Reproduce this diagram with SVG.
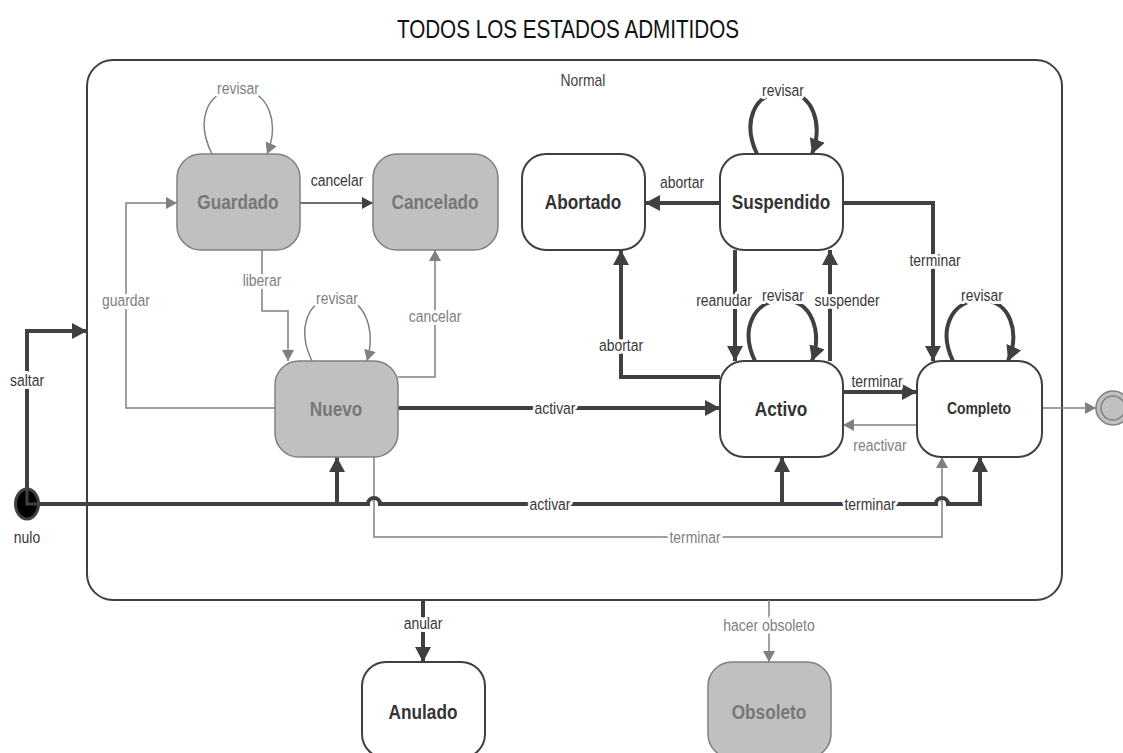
<svg xmlns="http://www.w3.org/2000/svg" width="1123" height="753" viewBox="0 0 1123 753">
<style>
text{font-family:"Liberation Sans",Arial,sans-serif;text-anchor:middle;dominant-baseline:central}
.title{font-size:25.5px;fill:#111}
.st{font-size:21px;font-weight:bold}
.dk{fill:#333}
.gy{fill:#777}
.lbl{font-size:17px;stroke:#fff;stroke-width:6px;paint-order:stroke;stroke-linejoin:round}
.ld{fill:#383838}
.lg{fill:#808080}
.nw{fill:#fff;stroke:#404040;stroke-width:2}
.ng{fill:#c0c0c0;stroke:#808080;stroke-width:1.5}
.thick{fill:none;stroke:#404040;stroke-width:4}
.thin{fill:none;stroke:#404040;stroke-width:1.5}
.gray{fill:none;stroke:#808080;stroke-width:1.5}
</style>
<defs>
<marker id="aT" markerUnits="userSpaceOnUse" markerWidth="15" markerHeight="16" refX="15" refY="8" orient="auto"><path d="M0,0 L15,8 L0,16 z" fill="#404040"/></marker>
<marker id="aD" markerUnits="userSpaceOnUse" markerWidth="11" markerHeight="12" refX="11" refY="6" orient="auto"><path d="M0,0 L11,6 L0,12 z" fill="#404040"/></marker>
<marker id="aG" markerUnits="userSpaceOnUse" markerWidth="11" markerHeight="12" refX="11" refY="6" orient="auto"><path d="M0,0 L11,6 L0,12 z" fill="#808080"/></marker>
</defs>
<rect width="1123" height="753" fill="#fff"/>
<text class="title" transform="translate(568,29) scale(0.81,1)">TODOS LOS ESTADOS ADMITIDOS</text>
<g id="Normal">
<rect x="87" y="60" width="975" height="540" rx="26" fill="none" stroke="#404040" stroke-width="2"/>
<text class="lbl" style="fill:#444" transform="translate(583,80) scale(0.82,1)">Normal</text>
</g>
<g id="connectors">
<path class="thin" d="M300,203 L373,203" marker-end="url(#aD)"/>
<path class="gray" d="M276,408 L126,408 L126,203 L177,203" marker-end="url(#aG)"/>
<path class="gray" d="M262,250 L262,311 L288,311 L288,361" marker-end="url(#aG)"/>
<path class="gray" d="M398,377 L435,377 L435,250" marker-end="url(#aG)"/>
<path class="gray" d="M212,154 C196,122 205,90 238,90 C271,90 279,125 267,154" marker-end="url(#aG)"/>
<path class="gray" d="M312,361 C297,330 306,298 337,298 C368,298 375,333 367,361" marker-end="url(#aG)"/>
<path class="thick" d="M27,504 L27,331 L87,331" marker-end="url(#aT)"/>
<path class="gray" d="M374,457 L374,537 L942,537 L942,457" marker-end="url(#aG)"/>
<path class="thick" d="M27,504 L368,504 A6,6 0 0 1 380,504 L936,504 A6,6 0 0 1 948,504 L980,504 L980,457" marker-end="url(#aT)"/>
<path class="thick" d="M337,504 L337,457" marker-end="url(#aT)"/>
<path class="thick" d="M782,504 L782,457" marker-end="url(#aT)"/>
<path class="thick" d="M398,408 L720,408" marker-end="url(#aT)"/>
<path class="thick" d="M843,392 L917,392" marker-end="url(#aT)"/>
<path class="gray" d="M917,425 L843,425" marker-end="url(#aG)"/>
<path class="gray" d="M1042,408 L1096,408" marker-end="url(#aG)"/>
<path class="thick" d="M720,203 L645,203" marker-end="url(#aT)"/>
<path class="thick" d="M843,203 L933,203 L933,361" marker-end="url(#aT)"/>
<path class="thick" d="M735,250 L735,361" marker-end="url(#aT)"/>
<path class="thick" d="M830,361 L830,250" marker-end="url(#aT)"/>
<path class="thick" d="M720,377 L621,377 L621,250" marker-end="url(#aT)"/>
<path class="thick" d="M757,154 C742,122 754,92 784,92 C814,92 823,125 812,154" marker-end="url(#aT)"/>
<path class="thick" d="M755,361 C740,330 753,300 783,300 C813,300 822,333 812,361" marker-end="url(#aT)"/>
<path class="thick" d="M953,361 C938,330 951,300 981,300 C1011,300 1020,333 1008,361" marker-end="url(#aT)"/>
<path class="thick" d="M423,600 L423,662" marker-end="url(#aT)"/>
<path class="gray" d="M769,600 L769,662" marker-end="url(#aG)"/>
<text class="lbl ld" transform="translate(337,180) scale(0.82,1)">cancelar</text>
<text class="lbl lg" transform="translate(126,300) scale(0.82,1)">guardar</text>
<text class="lbl lg" transform="translate(262,280) scale(0.82,1)">liberar</text>
<text class="lbl lg" transform="translate(435,316) scale(0.82,1)">cancelar</text>
<text class="lbl lg" transform="translate(238,88) scale(0.82,1)">revisar</text>
<text class="lbl lg" transform="translate(337,298) scale(0.82,1)">revisar</text>
<text class="lbl ld" transform="translate(27,380) scale(0.82,1)">saltar</text>
<text class="lbl lg" transform="translate(695,537) scale(0.82,1)">terminar</text>
<text class="lbl ld" transform="translate(550,504) scale(0.82,1)">activar</text>
<text class="lbl ld" transform="translate(870,504) scale(0.82,1)">terminar</text>
<text class="lbl ld" transform="translate(555,408) scale(0.82,1)">activar</text>
<text class="lbl ld" transform="translate(877,381) scale(0.82,1)">terminar</text>
<text class="lbl lg" transform="translate(880,445) scale(0.82,1)">reactivar</text>
<text class="lbl ld" transform="translate(682,182) scale(0.82,1)">abortar</text>
<text class="lbl ld" transform="translate(935,260) scale(0.82,1)">terminar</text>
<text class="lbl ld" transform="translate(724,300) scale(0.82,1)">reanudar</text>
<text class="lbl ld" transform="translate(847,300) scale(0.82,1)">suspender</text>
<text class="lbl ld" transform="translate(621,345) scale(0.82,1)">abortar</text>
<text class="lbl ld" transform="translate(783,90) scale(0.82,1)">revisar</text>
<text class="lbl ld" transform="translate(783,295) scale(0.82,1)">revisar</text>
<text class="lbl ld" transform="translate(982,295) scale(0.82,1)">revisar</text>
<text class="lbl ld" transform="translate(423,623) scale(0.82,1)">anular</text>
<text class="lbl lg" transform="translate(769,625) scale(0.82,1)">hacer obsoleto</text>
</g>
<g id="nulo">
<ellipse cx="27" cy="504" rx="11.5" ry="15" fill="#000" stroke="#404040" stroke-width="3"/>
<path d="M27,490 L27,504 L40,504" fill="none" stroke="#404040" stroke-width="3"/>
<text class="lbl ld" transform="translate(27,537) scale(0.82,1)">nulo</text>
</g>
<g id="Guardado"><rect class="ng" x="177" y="154" width="123" height="96" rx="24"/><text class="st gy" transform="translate(238,202) scale(0.82,1)">Guardado</text></g>
<g id="Cancelado"><rect class="ng" x="373" y="154" width="125" height="96" rx="24"/><text class="st gy" transform="translate(435,202) scale(0.82,1)">Cancelado</text></g>
<g id="Nuevo"><rect class="ng" x="275" y="361" width="123" height="96" rx="24"/><text class="st gy" transform="translate(336,409) scale(0.82,1)">Nuevo</text></g>
<g id="Abortado"><rect class="nw" x="522" y="154" width="123" height="96" rx="24"/><text class="st dk" transform="translate(583,202) scale(0.82,1)">Abortado</text></g>
<g id="Suspendido"><rect class="nw" x="720" y="154" width="123" height="96" rx="24"/><text class="st dk" transform="translate(781,202) scale(0.82,1)">Suspendido</text></g>
<g id="Activo"><rect class="nw" x="720" y="361" width="123" height="96" rx="24"/><text class="st dk" transform="translate(781,409) scale(0.82,1)">Activo</text></g>
<g id="Completo"><rect class="nw" x="917" y="361" width="125" height="96" rx="24"/><text class="dk" style="font-size:17px;font-weight:bold" transform="translate(979,408) scale(0.82,1)">Completo</text></g>
<g id="Anulado"><rect class="nw" x="362" y="662" width="123" height="96" rx="24"/><text class="st dk" transform="translate(423,712) scale(0.82,1)">Anulado</text></g>
<g id="Obsoleto"><rect class="ng" x="708" y="662" width="123" height="96" rx="24"/><text class="st gy" transform="translate(769,712) scale(0.82,1)">Obsoleto</text></g>
<g id="final"><circle cx="1113" cy="408" r="17" fill="#c0c0c0" stroke="#808080" stroke-width="1.5"/><circle cx="1113" cy="408" r="12" fill="none" stroke="#808080" stroke-width="1.5"/></g>
</svg>
